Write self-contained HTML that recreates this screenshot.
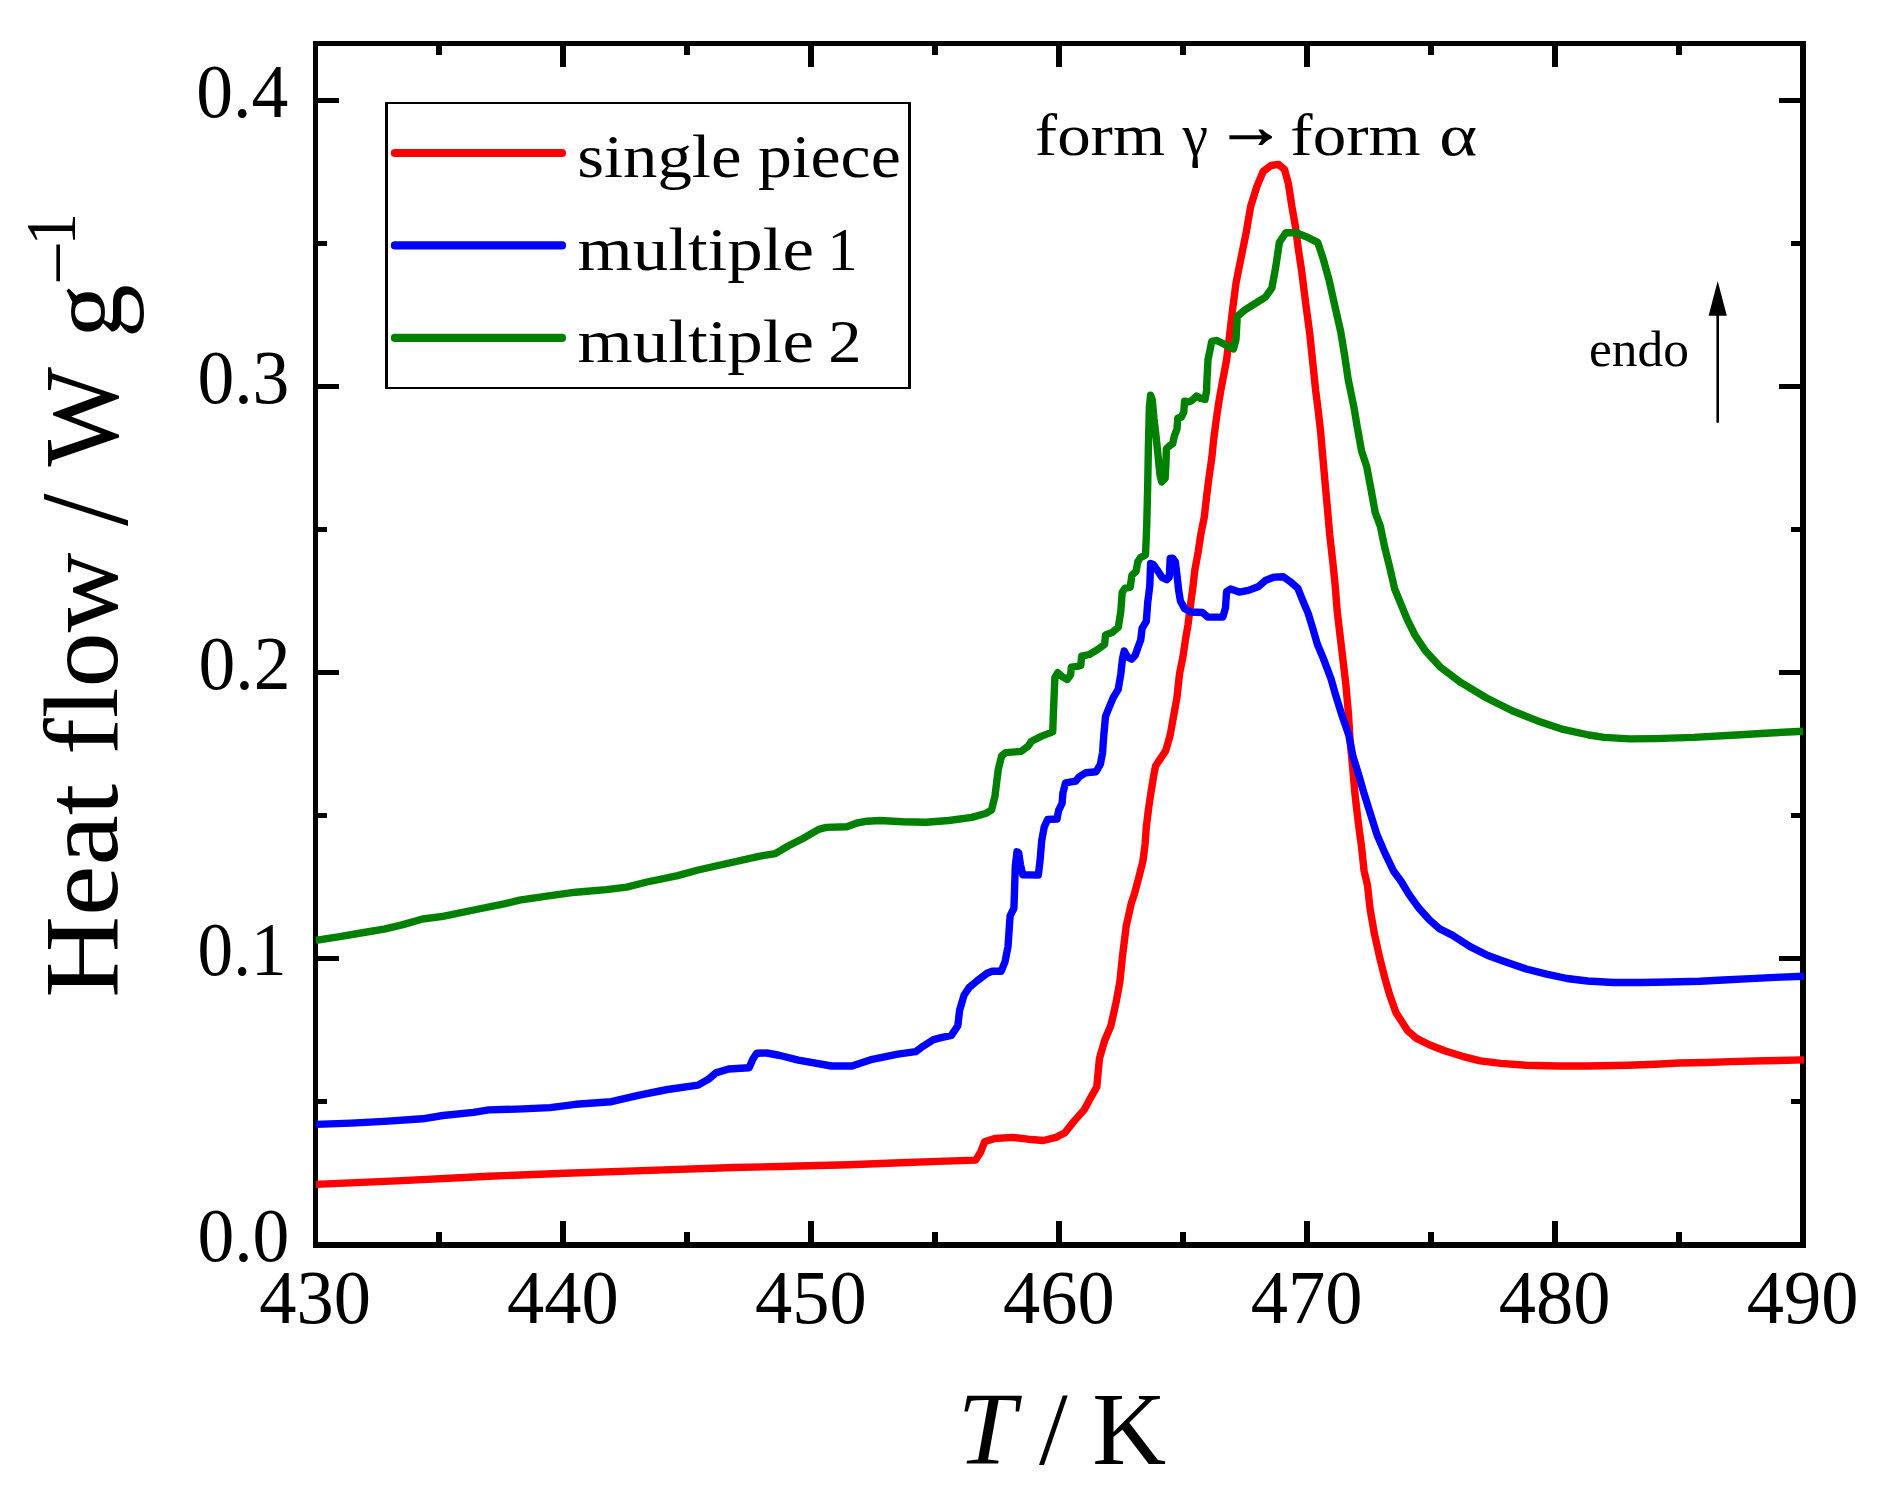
<!DOCTYPE html>
<html lang="en"><head><meta charset="utf-8"><title>Heat flow vs T</title>
<style>html,body{margin:0;padding:0;background:#fff}svg{display:block}</style></head>
<body>
<svg width="1881" height="1493" viewBox="0 0 1881 1493" font-family='"Liberation Serif", serif' fill="#000">
<rect width="1881" height="1493" fill="#fff"/>
<defs><clipPath id="pc"><rect x="314.5" y="43.5" width="1489.6" height="1201.5"/></clipPath></defs>
<path d="M313 41H318V1248H313ZM1800 41H1806V1248H1800ZM313 41H1806V46H313ZM313 1242H1806V1248H313ZM436 46H442V55H436ZM436 1232H442V1242H436ZM560 46H566V67H560ZM560 1221H566V1242H560ZM684 46H690V55H684ZM684 1232H690V1242H684ZM808 46H814V67H808ZM808 1221H814V1242H808ZM932 46H938V55H932ZM932 1232H938V1242H932ZM1056 46H1062V67H1056ZM1056 1221H1062V1242H1056ZM1180 46H1186V55H1180ZM1180 1232H1186V1242H1180ZM1304 46H1310V67H1304ZM1304 1221H1310V1242H1304ZM1428 46H1434V55H1428ZM1428 1232H1434V1242H1428ZM1552 46H1558V67H1552ZM1552 1221H1558V1242H1552ZM1676 46H1682V55H1676ZM1676 1232H1682V1242H1676ZM318 1099H327V1104H318ZM1791 1099H1800V1104H1791ZM318 956H339V961H318ZM1779 956H1800V961H1779ZM318 813H327V818H318ZM1791 813H1800V818H1791ZM318 670H339V675H318ZM1779 670H1800V675H1779ZM318 527H327V532H318ZM1791 527H1800V532H1791ZM318 384H339V389H318ZM1779 384H1800V389H1779ZM318 241H327V246H318ZM1791 241H1800V246H1791ZM318 98H339V103H318ZM1779 98H1800V103H1779Z" fill="#000" shape-rendering="crispEdges"/>
<g clip-path="url(#pc)" fill="none" stroke-width="7.4" stroke-linejoin="round" stroke-linecap="butt">
<path d="M315.8 1184.4 L402.1 1180.6 L488.8 1176.2 L565.4 1173.2 L657.3 1170.1 L733.8 1167.5 L780.0 1166.5 L798.3 1166.0 L849.3 1164.7 L900.4 1162.7 L938.6 1161.4 L975.6 1160.1 L980.7 1152.0 L984.6 1141.8 L994.8 1138.5 L1012.6 1137.4 L1027.9 1139.2 L1043.3 1140.5 L1056.0 1137.4 L1064.9 1132.8 L1073.9 1121.4 L1084.1 1109.9 L1091.7 1095.8 L1096.8 1086.9 L1099.4 1058.8 L1104.5 1041.0 L1110.9 1025.7 L1116.0 1002.7 L1119.8 982.3 L1122.4 956.8 L1126.2 926.1 L1131.3 903.2 L1134.4 894.0 L1138.6 878.2 L1142.9 861.2 L1145.1 844.1 L1146.3 827.1 L1148.8 806.7 L1151.4 789.7 L1153.9 774.4 L1155.6 765.9 L1165.8 750.6 L1170.1 735.3 L1173.5 716.6 L1176.9 697.8 L1179.5 674.0 L1182.9 657.0 L1185.4 640.0 L1188.0 624.8 L1190.6 604.4 L1193.1 585.6 L1194.8 570.3 L1198.2 551.6 L1200.8 534.6 L1204.2 517.6 L1206.7 495.5 L1209.3 475.1 L1211.8 458.0 L1213.5 441.0 L1216.1 420.6 L1218.6 403.6 L1220.9 390.0 L1226.6 359.7 L1229.7 334.1 L1232.7 308.6 L1236.0 283.1 L1241.1 257.6 L1246.3 232.1 L1250.6 206.6 L1257.0 186.1 L1263.3 171.3 L1271.0 165.5 L1278.7 164.4 L1284.5 169.6 L1288.4 183.6 L1291.9 206.6 L1295.5 227.0 L1298.1 247.4 L1301.9 272.9 L1305.7 303.5 L1309.8 334.1 L1315.6 390.0 L1318.2 410.4 L1320.7 432.5 L1322.9 458.0 L1325.0 481.9 L1327.5 509.1 L1329.7 534.6 L1332.6 560.1 L1335.2 585.6 L1337.2 611.2 L1345.8 683.9 L1348.3 712.0 L1350.1 740.1 L1352.7 768.1 L1355.2 796.2 L1358.5 824.3 L1361.6 847.3 L1364.1 871.0 L1367.5 885.3 L1370.0 908.3 L1374.4 933.8 L1379.5 956.8 L1384.6 977.2 L1389.7 995.0 L1396.1 1012.9 L1401.2 1020.6 L1407.6 1030.8 L1416.5 1038.4 L1429.3 1044.8 L1444.6 1050.7 L1462.4 1056.3 L1480.3 1060.9 L1500.7 1063.4 L1526.2 1065.2 L1556.8 1066.0 L1587.5 1066.0 L1628.3 1065.2 L1655.3 1064.2 L1679.1 1063.0 L1706.3 1062.5 L1730.1 1061.6 L1764.1 1060.8 L1804.1 1059.9" stroke="#ff0000"/>
<path d="M315.8 1124.4 L351.0 1123.1 L384.2 1121.4 L422.5 1118.8 L442.9 1115.5 L473.5 1112.4 L488.8 1109.9 L516.9 1109.1 L550.1 1107.6 L575.6 1104.3 L611.3 1101.7 L639.4 1095.1 L667.5 1089.5 L698.1 1085.1 L708.3 1079.3 L715.9 1072.9 L728.7 1069.0 L749.1 1067.8 L753.0 1058.8 L756.8 1053.2 L767.0 1053.0 L780.0 1055.5 L798.3 1060.1 L831.5 1066.0 L851.9 1066.0 L872.3 1059.3 L897.8 1054.2 L915.7 1051.7 L923.3 1046.1 L933.5 1039.7 L941.2 1037.7 L951.4 1035.4 L957.8 1025.7 L959.6 1010.4 L964.1 995.0 L969.3 987.4 L976.9 981.0 L987.1 973.3 L992.2 971.3 L1001.1 971.3 L1005.0 961.9 L1008.0 946.6 L1010.1 915.9 L1013.9 908.3 L1014.4 894.0 L1015.3 866.3 L1017.0 851.8 L1018.7 852.7 L1020.4 864.6 L1022.9 874.8 L1038.3 875.1 L1040.0 861.2 L1041.7 840.7 L1044.2 827.1 L1047.6 819.5 L1057.0 819.0 L1058.7 810.1 L1062.1 803.3 L1062.9 793.1 L1065.5 782.9 L1075.7 781.2 L1079.1 776.9 L1085.9 772.7 L1096.1 771.8 L1100.4 764.2 L1102.6 752.3 L1103.8 735.3 L1105.5 716.6 L1108.9 708.0 L1113.1 697.8 L1118.2 689.3 L1120.8 674.0 L1122.5 658.7 L1124.2 651.1 L1127.6 657.0 L1131.8 659.1 L1135.2 655.3 L1137.8 647.7 L1140.7 640.0 L1142.1 628.2 L1146.3 621.4 L1147.7 602.7 L1149.8 585.6 L1150.6 563.5 L1153.2 564.4 L1157.4 570.3 L1161.7 577.1 L1166.8 579.7 L1169.3 577.1 L1170.2 558.4 L1172.7 558.1 L1175.3 561.8 L1177.0 575.4 L1178.7 590.7 L1180.4 601.0 L1184.6 608.6 L1190.6 612.0 L1202.5 612.5 L1207.6 617.1 L1222.9 617.1 L1225.5 607.8 L1226.6 591.6 L1230.6 589.0 L1239.1 592.1 L1248.4 590.4 L1258.6 586.5 L1265.4 580.5 L1273.9 577.1 L1283.3 576.8 L1291.0 582.2 L1297.8 588.2 L1302.9 601.0 L1308.0 612.9 L1312.2 626.5 L1317.3 644.0 L1323.3 658.4 L1331.0 678.8 L1336.1 696.7 L1342.5 717.1 L1348.8 735.0 L1352.7 755.4 L1359.0 775.8 L1364.1 793.7 L1370.5 814.1 L1376.9 834.5 L1384.6 852.4 L1393.5 871.0 L1401.2 881.5 L1408.8 894.2 L1419.0 908.3 L1429.3 919.8 L1439.5 928.7 L1452.2 935.1 L1470.1 946.6 L1487.9 955.5 L1505.8 961.9 L1526.2 969.0 L1546.6 974.1 L1567.0 978.5 L1587.5 981.0 L1613.0 982.5 L1641.1 982.5 L1669.1 982.0 L1700.0 981.3 L1723.3 980.0 L1750.5 978.6 L1781.2 977.1 L1804.1 976.2" stroke="#0000ff"/>
<path d="M315.8 940.4 L338.3 936.9 L363.8 932.5 L384.2 929.2 L402.1 924.9 L422.5 919.0 L442.9 916.4 L478.6 909.0 L504.1 903.9 L519.5 900.1 L545.0 896.3 L575.6 892.2 L606.2 889.6 L626.6 887.1 L647.0 882.0 L677.7 875.6 L698.1 870.0 L760.0 856.2 L775.3 853.6 L788.1 846.0 L803.4 838.3 L818.7 829.4 L826.3 827.4 L846.8 826.8 L857.0 823.0 L867.2 821.2 L879.9 820.5 L902.9 821.7 L925.9 822.2 L948.8 820.5 L971.8 817.4 L973.6 816.9 L985.5 813.5 L991.5 810.1 L994.9 796.5 L996.6 782.9 L998.3 769.3 L1001.7 755.7 L1005.9 752.6 L1021.2 751.4 L1028.0 746.3 L1031.5 741.2 L1041.7 736.1 L1052.7 731.9 L1053.6 708.0 L1054.9 677.4 L1057.8 672.7 L1062.1 676.6 L1067.2 679.5 L1070.6 674.9 L1071.4 667.2 L1077.4 666.4 L1080.8 665.5 L1081.6 656.2 L1089.3 654.5 L1097.8 649.4 L1104.6 644.3 L1105.5 635.0 L1112.3 632.4 L1118.3 627.3 L1120.8 611.2 L1122.2 592.4 L1125.1 588.2 L1130.2 587.3 L1131.9 575.4 L1136.1 571.2 L1137.8 561.8 L1140.4 557.6 L1145.5 555.0 L1146.7 526.1 L1147.7 485.3 L1148.4 446.1 L1149.4 407.0 L1150.6 395.1 L1152.3 400.2 L1154.0 418.9 L1156.2 437.6 L1158.3 458.0 L1160.0 475.1 L1161.7 481.9 L1165.1 478.5 L1165.9 464.9 L1166.4 448.7 L1169.3 446.1 L1172.7 443.6 L1174.4 435.9 L1177.0 429.1 L1177.8 418.1 L1181.2 417.2 L1183.8 412.1 L1184.6 401.1 L1188.9 401.9 L1192.3 400.2 L1196.5 396.0 L1200.8 398.5 L1205.0 399.4 L1206.7 390.0 L1206.7 385.2 L1208.0 359.7 L1211.8 341.3 L1216.9 340.5 L1224.6 344.4 L1233.5 348.9 L1236.0 339.3 L1237.3 316.3 L1245.0 309.9 L1255.2 303.5 L1265.4 297.1 L1271.8 288.2 L1275.6 267.8 L1279.4 242.3 L1285.8 232.8 L1296.0 232.6 L1306.2 236.7 L1317.7 242.3 L1322.8 257.6 L1329.2 280.6 L1334.3 303.5 L1340.7 331.6 L1344.5 354.6 L1348.3 380.1 L1353.9 407.0 L1357.3 427.4 L1361.6 451.2 L1366.7 466.6 L1370.9 488.7 L1375.2 512.5 L1380.3 526.1 L1384.5 546.5 L1389.6 566.9 L1394.7 589.0 L1407.5 620.1 L1415.2 635.5 L1425.4 650.8 L1440.7 667.4 L1461.1 682.7 L1486.6 698.0 L1512.2 710.7 L1537.7 720.9 L1563.2 729.4 L1588.7 735.0 L1604.1 737.4 L1629.7 738.9 L1655.2 738.6 L1693.5 737.4 L1731.7 735.3 L1770.0 733.0 L1803.2 731.2" stroke="#008000"/>
</g>
<g font-size="76.22">
<text y="1323.0"><tspan x="259.19" textLength="111.79" lengthAdjust="spacingAndGlyphs">430</tspan></text>
<text y="1323.0"><tspan x="507.10" textLength="111.79" lengthAdjust="spacingAndGlyphs">440</tspan></text>
<text y="1323.0"><tspan x="755.02" textLength="111.79" lengthAdjust="spacingAndGlyphs">450</tspan></text>
<text y="1323.0"><tspan x="1002.94" textLength="111.79" lengthAdjust="spacingAndGlyphs">460</tspan></text>
<text y="1323.0"><tspan x="1250.85" textLength="111.79" lengthAdjust="spacingAndGlyphs">470</tspan></text>
<text y="1323.0"><tspan x="1498.77" textLength="111.79" lengthAdjust="spacingAndGlyphs">480</tspan></text>
<text y="1323.0"><tspan x="1746.69" textLength="111.79" lengthAdjust="spacingAndGlyphs">490</tspan></text>
</g>
<g font-size="76.22">
<text y="1261.3"><tspan x="197.40" textLength="92.00" lengthAdjust="spacingAndGlyphs">0.0</tspan></text>
<text y="975.2"><tspan x="197.58" textLength="88.96" lengthAdjust="spacingAndGlyphs">0.1</tspan></text>
<text y="689.1"><tspan x="198.55" textLength="92.00" lengthAdjust="spacingAndGlyphs">0.2</tspan></text>
<text y="403.0"><tspan x="197.40" textLength="92.00" lengthAdjust="spacingAndGlyphs">0.3</tspan></text>
<text y="116.9"><tspan x="196.25" textLength="92.00" lengthAdjust="spacingAndGlyphs">0.4</tspan></text>
</g>
<text y="1464" font-size="103"><tspan x="957.44" textLength="58.33" lengthAdjust="spacingAndGlyphs" font-style="italic">T</tspan> <tspan x="1038.90" textLength="28.75" lengthAdjust="spacingAndGlyphs">/</tspan> <tspan x="1092.30" textLength="73.95" lengthAdjust="spacingAndGlyphs">K</tspan></text>
<text transform="translate(117.2 0) rotate(-90)" y="0" font-size="105.5"><tspan x="-997.77" textLength="213.98" lengthAdjust="spacingAndGlyphs">Heat</tspan> <tspan x="-755.03" textLength="202.50" lengthAdjust="spacingAndGlyphs">flow</tspan> <tspan x="-526.10" textLength="32.40" lengthAdjust="spacingAndGlyphs" dy="9.7" font-size="124.2">/</tspan> <tspan x="-466.60" textLength="97.64" lengthAdjust="spacingAndGlyphs" dy="-9.7">W</tspan> <tspan x="-338.06" textLength="53.74" lengthAdjust="spacingAndGlyphs" dy="4">g</tspan><tspan x="-285.31" textLength="44.64" lengthAdjust="spacingAndGlyphs" dy="-39.3" font-size="72.0">−</tspan><tspan x="-245.38" textLength="32.53" lengthAdjust="spacingAndGlyphs" dy="-6.5" font-size="72.0">1</tspan></text>
<rect x="385" y="102" width="526" height="287" fill="#fff"/>
<path d="M385 102H911V389H385ZM388 104V387H908V104Z" fill="#000" fill-rule="evenodd" shape-rendering="crispEdges"/>
<path d="M394.9 153.0 H562.0" stroke="#ff0000" stroke-width="8.2" stroke-linecap="round" fill="none"/>
<path d="M394.9 245.4 H562.0" stroke="#0000ff" stroke-width="8.2" stroke-linecap="round" fill="none"/>
<path d="M394.9 337.9 H562.0" stroke="#008000" stroke-width="8.2" stroke-linecap="round" fill="none"/>
<g font-size="62">
<text y="177.0"><tspan x="577.25" textLength="164.26" lengthAdjust="spacingAndGlyphs">single</tspan> <tspan x="757.94" textLength="142.74" lengthAdjust="spacingAndGlyphs">piece</tspan></text>
<text y="269.9"><tspan x="577.59" textLength="236.37" lengthAdjust="spacingAndGlyphs">multiple</tspan> <tspan x="827.59" textLength="30.13" lengthAdjust="spacingAndGlyphs">1</tspan></text>
<text y="361.8"><tspan x="577.59" textLength="236.37" lengthAdjust="spacingAndGlyphs">multiple</tspan> <tspan x="828.32" textLength="33.30" lengthAdjust="spacingAndGlyphs">2</tspan></text>
</g>
<text y="154.6" font-size="60"><tspan x="1034.85" textLength="130.16" lengthAdjust="spacingAndGlyphs">form</tspan> <tspan x="1182.40" textLength="25.45" lengthAdjust="spacingAndGlyphs">γ</tspan> <tspan x="1216.34" textLength="69.22" lengthAdjust="spacingAndGlyphs" dy="-8" stroke="#000" stroke-width="1.4">→</tspan> <tspan x="1290.35" textLength="130.27" lengthAdjust="spacingAndGlyphs" dy="8">form</tspan> <tspan x="1439.34" textLength="37.86" lengthAdjust="spacingAndGlyphs">α</tspan></text>
<text y="365.6" font-size="51"><tspan x="1588.99" textLength="99.91" lengthAdjust="spacingAndGlyphs">endo</tspan></text>
<path d="M1717.7 422.7 V312" stroke="#000" stroke-width="2.6" fill="none"/>
<path d="M1717.7 281 L1726.8 315.8 H1708.6 Z" fill="#000"/>
</svg>
</body></html>
